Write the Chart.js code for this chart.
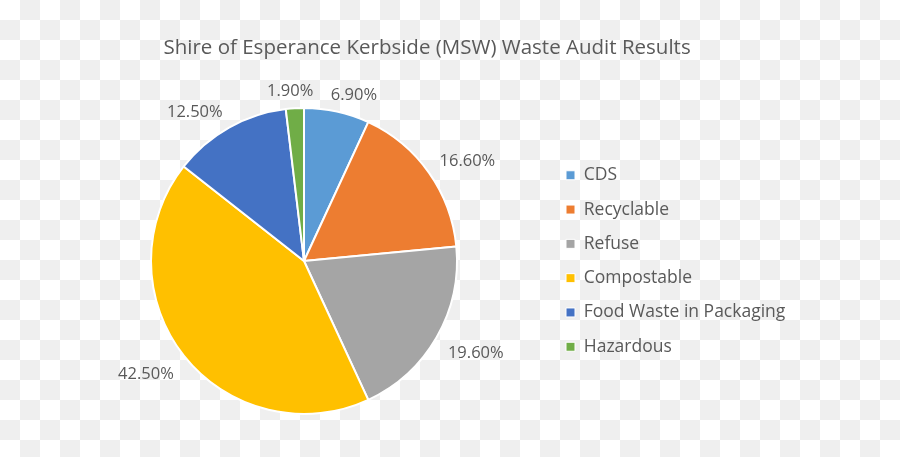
<!DOCTYPE html>
<html>
<head>
<meta charset="utf-8">
<script src="https://cdn.jsdelivr.net/npm/chart.js@4"></script>
<style>
    html, body { margin: 0; padding: 0; }
    #wrap {
        width: 900px;
        height: 457px;
        background-color: #ffffff;
        background-image: conic-gradient(#efefef 0 25%, #ffffff 0 50%, #efefef 0 75%, #ffffff 0);
        background-size: 40px 40px;
    }
</style>
</head>
<body>
<div id="wrap"><canvas id="waste-chart"></canvas></div>
<script>
// Data
var categories = ['CDS', 'Recyclable', 'Refuse', 'Compostable', 'Food Waste in Packaging', 'Hazardous'];
var shares = [6.9, 16.6, 19.6, 42.5, 12.5, 1.9];
var colours = ['#5B9BD5', '#ED7D31', '#A5A5A5', '#FFC000', '#4472C4', '#70AD47'];

var fontFamily = '"Open Sans", "Liberation Sans", sans-serif';
var textColour = '#595959';
var legendFontSize = 17.5;
var legendPadding = 16.8;
var legendBox = 9;
var legendBoxLeft = 566;
var pieCentreX = 304;

// Work out the legend width so the boxes land where they should
var measureCtx = document.createElement('canvas').getContext('2d');
measureCtx.font = legendFontSize + 'px ' + fontFamily;
var maxText = 0;
categories.forEach(function (c) {
    maxText = Math.max(maxText, measureCtx.measureText(c).width);
});
var itemWidth = legendBox + legendFontSize / 2 + maxText;
var padRight = 890 - legendBoxLeft - itemWidth;
var padLeft = 2 * pieCentreX - (legendBoxLeft - legendPadding);

function clamp1(v) {
    return Math.max(-1, Math.min(1, v));
}

/**
 * Percentage labels outside each slice (corner of label sits on the mid ray)
 */
var outsideLabels = {
    id: 'outsideLabels',
    afterDatasetsDraw: function (chart) {
        var ctx = chart.ctx;
        var meta = chart.getDatasetMeta(0);
        ctx.save();
        ctx.font = '16.5px ' + fontFamily;
        ctx.fillStyle = textColour;
        ctx.textAlign = 'center';
        ctx.textBaseline = 'middle';
        meta.data.forEach(function (arc, i) {
            var p = arc.getProps(['x', 'y', 'startAngle', 'endAngle', 'outerRadius'], true);
            var mid = (p.startAngle + p.endAngle) / 2;
            var text = shares[i].toFixed(2) + '%';
            var halfW = ctx.measureText(text).width / 2;
            var halfH = 7;
            var cos = Math.cos(mid), sin = Math.sin(mid);
            var dist = p.outerRadius + 13;
            var cx = p.x + cos * dist + halfW * clamp1(cos / 0.35);
            var cy = p.y + sin * dist + halfH * clamp1(sin / 0.35) + 3;
            ctx.fillText(text, cx, cy);
        });
        ctx.restore();
    }
};

new Chart(document.getElementById('waste-chart').getContext('2d'), {
    type: 'pie',
    data: {
        labels: categories,
        datasets: [
            {
                data: shares,
                backgroundColor: colours,
                borderColor: '#ffffff',
                borderWidth: 2
            }
        ]
    },
    options: {
        responsive: true,
        maintainAspectRatio: false,
        animation: false,
        devicePixelRatio: 1,
        radius: 153,
        layout: {
            padding: { left: padLeft, right: padRight, top: 0, bottom: -2 }
        },
        plugins: {
            tooltip: { enabled: false },
            title: {
                display: true,
                text: 'Shire of Esperance Kerbside (MSW) Waste Audit Results',
                color: textColour,
                font: { family: fontFamily, size: 20.5, weight: 'normal' },
                padding: { top: 35.7, bottom: 4.7 }
            },
            legend: {
                position: 'right',
                align: 'center',
                fullSize: false,
                labels: {
                    color: textColour,
                    font: { family: fontFamily, size: legendFontSize },
                    boxWidth: legendBox,
                    boxHeight: legendBox,
                    padding: legendPadding,
                    generateLabels: function (chart) {
                        return chart.data.labels.map(function (label, i) {
                            return {
                                text: label,
                                fillStyle: colours[i],
                                strokeStyle: '#ffffff',
                                lineWidth: 1,
                                fontColor: textColour,
                                index: i
                            };
                        });
                    }
                }
            }
        }
    },
    plugins: [outsideLabels]
});
</script>
</body>
</html>
